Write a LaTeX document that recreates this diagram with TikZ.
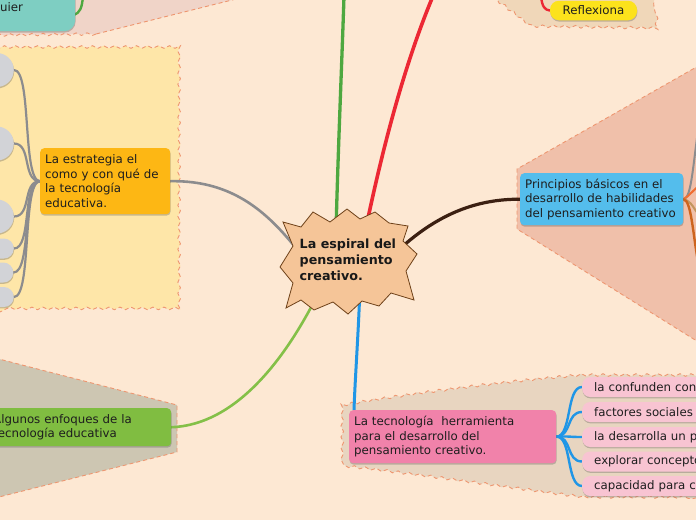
\documentclass[tikz,border=0pt]{standalone}
\usepackage{fontspec}
\setmainfont{DejaVu Sans}
\usetikzlibrary{decorations.pathmorphing,shadows,calc}
\pgfdeclarelayer{regions}
\pgfdeclarelayer{links}
\pgfsetlayers{regions,links,main}
\definecolor{bg}{RGB}{253,232,211}
\definecolor{dashc}{RGB}{238,150,112}
\definecolor{yellreg}{RGB}{254,230,168}
\definecolor{pinkreg}{RGB}{240,212,200}
\definecolor{prinreg}{RGB}{240,192,170}
\definecolor{algreg}{RGB}{205,198,178}
\definecolor{tecreg}{RGB}{232,213,192}
\definecolor{refreg}{RGB}{240,215,185}
\definecolor{tealn}{RGB}{126,206,194}
\definecolor{orangen}{RGB}{253,183,20}
\definecolor{bluen}{RGB}{84,189,236}
\definecolor{pinkn}{RGB}{241,130,170}
\definecolor{lpink}{RGB}{248,196,210}
\definecolor{greenn}{RGB}{128,189,65}
\definecolor{yellown}{RGB}{252,226,28}
\definecolor{grayn}{RGB}{210,211,215}
\definecolor{starfill}{RGB}{245,197,152}
\definecolor{starline}{RGB}{110,65,25}
\definecolor{txt}{RGB}{30,30,30}
\definecolor{lgray}{RGB}{140,140,142}
\definecolor{cgreen}{RGB}{78,168,64}
\definecolor{cred}{RGB}{236,40,52}
\definecolor{cbrown}{RGB}{60,32,18}
\definecolor{cblue}{RGB}{32,150,230}
\definecolor{clgreen}{RGB}{132,192,72}
\definecolor{corange}{RGB}{240,110,50}
\definecolor{cdorange}{RGB}{205,100,30}
\definecolor{ctan}{RGB}{195,150,95}
\newcommand\fsz{\fontsize{11.8}{14.6}\selectfont}
\newcommand\csz{\fontsize{12.7}{15.8}\selectfont}
\begin{document}
\begin{tikzpicture}[x=1pt,y=-1pt,
  region/.style={draw=dashc, line width=0.9pt, dash pattern=on 4pt off 3pt},
  wavy/.style={decorate, decoration={snake, amplitude=1.3pt, segment length=11pt}},
  box/.style={rounded corners=4pt, align=left, inner xsep=5pt, inner ysep=2pt,
    font=\fsz, text=txt, anchor=north west,
    drop shadow={shadow xshift=0.4pt, shadow yshift=-1.4pt, opacity=0.3, fill=black!70}},
  pill/.style={box, rounded corners=9pt},
  child/.style={pill, fill=lpink, anchor=west, minimum width=180pt, minimum height=20pt,
    text width=156pt, inner xsep=12pt, inner ysep=0pt, rounded corners=8pt},
  bubble/.style={fill=grayn, anchor=east, minimum width=54pt,
    drop shadow={shadow xshift=0.4pt, shadow yshift=-1.4pt, opacity=0.3, fill=black!70}},
  link/.style={line cap=round}
]
\useasboundingbox (0,0) rectangle (696,520);
\clip (0,0) rectangle (696,520);

% ---------- regions ----------
\begin{pgfonlayer}{regions}
\fill[bg] (0,0) rectangle (696,520);
\fill[pinkreg] (-5,-5) -- (240,-5) -- (236,-1) -- (96,34) -- (-5,35) -- cycle;
\draw[region] (236,-1) -- (96,34);
\draw[region, wavy] (96,34) -- (-5,35);
\filldraw[region, wavy, fill=yellreg] (-10,47) -- (176,47) -- (176,313) -- (-10,313);
\filldraw[region, wavy, fill=refreg] (493,-3) -- (527,23) -- (654,25) -- (654,-3);
\filldraw[region, fill=prinreg] (700,65) -- (517,169) -- (517,229) -- (700,343);
\filldraw[region, fill=algreg] (-5,358) -- (177,405) -- (177,452) -- (-5,498);
\filldraw[region, wavy, fill=tecreg] (700,375) -- (583,375)
   .. controls (520,380) and (420,392) .. (345,405) -- (345,467)
   .. controls (420,475) and (520,490) .. (583,498) -- (700,498);
\end{pgfonlayer}

% ---------- nodes ----------
\filldraw[fill=starfill, draw=starline, line width=0.8pt]
  (283,222) -- (301,227) -- (313,212) -- (330,222) -- (347,209) -- (360,219)
  -- (375,212) -- (389,223) -- (408,226) -- (403,241) -- (417,254) -- (406,271)
  -- (414,300) -- (391,293) -- (379,306) -- (362,301) -- (348,314) -- (333,302)
  -- (314,310) -- (301,300) -- (286,308) -- (293,283) -- (280,267) -- (293,246) -- cycle;
\node (hub) [anchor=west, inner sep=0pt, align=left, font=\csz\bfseries, text=black!90]
  at (299.5,260) {La espiral del\\pensamiento\\creativo.};

\node (prin) [box, fill=bluen, minimum width=163pt, minimum height=52pt, text width=153pt]
  at (520,173) {Principios básicos en el\\desarrollo de habilidades\\del pensamiento creativo};
\node (orange) [box, fill=orangen, minimum width=130pt, minimum height=66pt, text width=120pt]
  at (40,148) {La estrategia el\\como y con qué de\\la tecnología\\educativa.};
\node (tec) [box, fill=pinkn, minimum width=207pt, minimum height=53pt, text width=197pt]
  at (349,410) {La tecnología\ \ herramienta\\para el desarrollo del\\pensamiento creativo.};
\node (alg) [box, fill=greenn, minimum width=183pt, minimum height=38pt, text width=173pt]
  at (-12,408) {Algunos enfoques de la\\tecnología educativa};
\node (teal) [pill, fill=tealn, rounded corners=11pt, minimum width=95pt, minimum height=48pt,
  text width=55pt, inner xsep=20pt, anchor=north west] at (-20,-17) {uier};
\node (refl) [pill, fill=yellown, anchor=center, minimum width=87pt, minimum height=19.5pt,
  inner ysep=0pt, align=center] at (593.5,10.5) {Reflexiona};

\node (c1) [child] at (582,387) {la confunden con};
\node (c2) [child] at (582,412) {factores sociales};
\node (c3) [child] at (582,437) {la desarrolla un p};
\node (c4) [child] at (582,461.5) {explorar concepto};
\node (c5) [child] at (582,486) {capacidad para c};

\node (g1) [bubble, minimum height=34pt, rounded corners=17pt] at (14,70) {};
\node (g2) [bubble, minimum height=34pt, rounded corners=17pt] at (14,143.5) {};
\node (g3) [bubble, minimum height=34pt, rounded corners=17pt] at (14,216.5) {};
\node (g4) [bubble, minimum height=20pt, rounded corners=10pt] at (14,248.5) {};
\node (g5) [bubble, minimum height=20pt, rounded corners=10pt] at (13.5,272.5) {};
\node (g6) [bubble, minimum height=20pt, rounded corners=10pt] at (14,297) {};

\coordinate (gTop) at (344,-4);
\coordinate (rTop) at (433,-4);
\coordinate (tTop) at (83,-4);
\coordinate (fTop) at (541,-4);
\coordinate (p1) at (700,118);
\coordinate (p2) at (700,186);
\coordinate (p3) at (700,216);
\coordinate (p4) at (700,272);

% ---------- connectors ----------
\begin{pgfonlayer}{links}
\draw[link, cgreen, line width=3.3pt] ($(hub)+(-12,-24)$) .. controls (338,150) and (342,60) .. (gTop);
\draw[link, cred, line width=3.6pt] ($(hub)+(17,-27)$) .. controls (380,160) and (402,70) .. (rTop);
\draw[link, cbrown, line width=3.2pt] ($(hub)+(54,-13)$) .. controls (440,213) and (478,199) .. (prin.west);
\draw[link, cblue, line width=3pt] ($(hub)+(12,31)$) .. controls (358,340) and (355,380) .. ($(tec.north west)+(5,0)$);
\draw[link, clgreen, line width=2.6pt] ($(hub)+(-30,34)$) .. controls (285,360) and (235,425) .. (alg.east);
\draw[link, lgray, line width=2.6pt] (orange.east) .. controls (235,180) and (270,215) .. ($(hub)+(-48,-7)$);

\foreach \g in {g1,g2,g3,g4,g5,g6}
  \draw[link, lgray, line width=2.2pt] (orange.west) .. controls (22,181) and (32,0|-\g.east) .. (\g.east);
\foreach \c in {c1,c2,c3,c4,c5}
  \draw[link, cblue, line width=2.4pt] (tec.east) .. controls (572,436) and (566,0|-\c.west) .. (\c.west);

\draw[link, cgreen, line width=2.4pt] (tTop) .. controls (82,8) and (80,13) .. ($(teal.east)+(-2,8)$);
\draw[link, cred, line width=2.4pt] (fTop) .. controls (542,7) and (545,10) .. (refl.west);

\draw[link, lgray, line width=2pt] (prin.east) .. controls (692,199) and (693,160) .. (p1);
\draw[link, corange, line width=2pt] (prin.east) .. controls (690,196) and (694,188) .. (p2);
\draw[link, ctan, line width=2pt] (prin.east) .. controls (692,201) and (694,210) .. (p3);
\draw[link, cdorange, line width=2.4pt] (prin.east) .. controls (692,200) and (693,240) .. (p4);
\end{pgfonlayer}
\end{tikzpicture}
\end{document}
